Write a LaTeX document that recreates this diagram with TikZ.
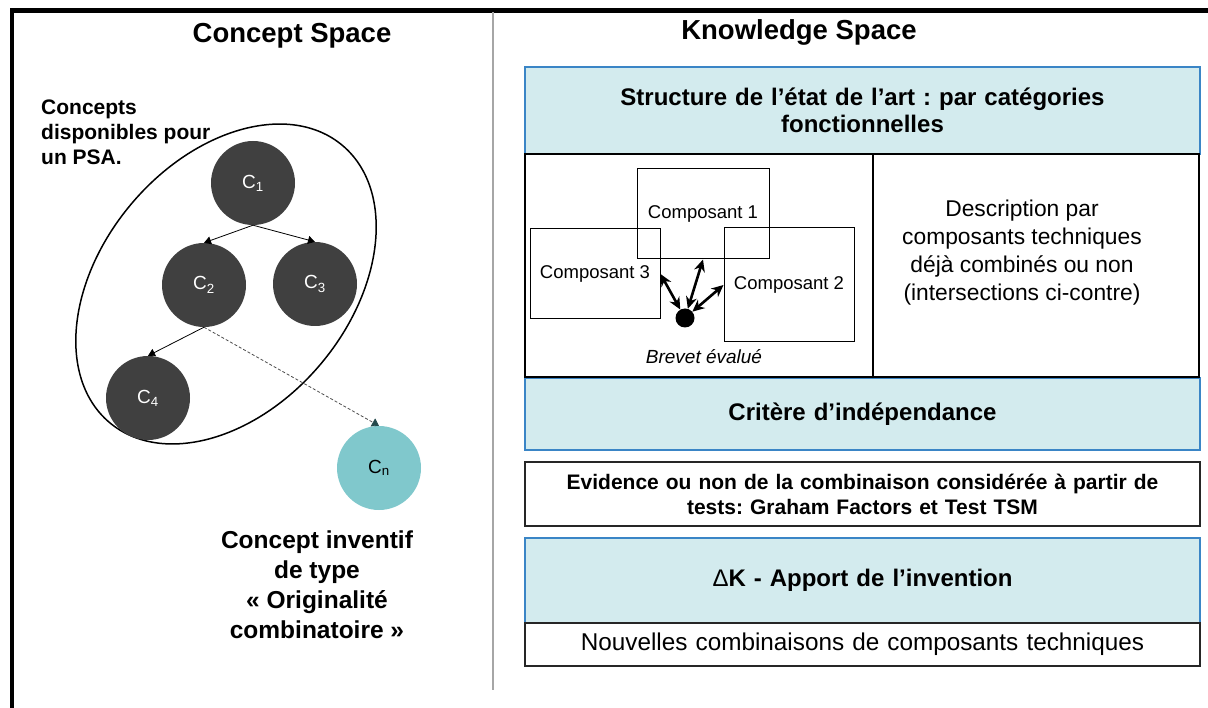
\documentclass[tikz,border=0pt]{standalone}
\usepackage{fontspec}
\setmainfont{Liberation Sans}
\usepackage{xcolor}
\usepackage{tikz}
\usetikzlibrary{positioning, arrows.meta, shapes.geometric}

\definecolor{conceptgray}{HTML}{404040}
\definecolor{cnteal}{HTML}{80C8CC}
\definecolor{cnarrow}{HTML}{23484B}
\definecolor{knowfill}{HTML}{D3EBEE}
\definecolor{knowedge}{HTML}{3A85C6}

\frenchspacing

\begin{document}
\begin{tikzpicture}[
    x=1pt, y=-1pt,
    title/.style={font=\bfseries\fontsize{27.5}{33}\selectfont},
    concept/.style={circle, fill=conceptgray, minimum size=84pt, inner sep=0pt, text=white, font=\fontsize{19}{21}\selectfont},
    link/.style={-{Triangle[width=8pt,length=7pt]}, line width=0.8pt},
    kbox/.style={draw=knowedge, fill=knowfill, line width=1.2pt, minimum width=675pt, inner sep=0pt, outer sep=0pt, text width=660pt, align=center, anchor=north west, font=\bfseries\fontsize{24}{27}\selectfont},
    wbox/.style={draw=black!85, fill=white, line width=1.5pt, minimum width=675pt, inner sep=0pt, outer sep=0pt, text width=660pt, align=center, anchor=north west},
    cell/.style={draw, line width=1.5pt, inner sep=0pt, outer sep=0pt, minimum height=223pt},
    comp/.style={draw, line width=1pt, minimum width=130pt, minimum height=90pt, inner sep=0pt, font=\fontsize{18.5}{20}\selectfont},
    duo/.style={{Stealth[length=12pt,width=11pt]}-{Stealth[length=12pt,width=11pt]}, line width=2.6pt}
]

\useasboundingbox (0,0) rectangle (1208,708);

% Frame and separation
\draw[line width=4.5pt] (1208,10.5) -- (12,10.5) -- (12,708);
\draw[gray!70, line width=1.5pt] (493,12) -- (493,690);

% Titles
\node[title] (cstitle) at (292,36) {Concept Space};
\node[title] (kstitle) at (799,32) {Knowledge Space};

% Concept space
\node[draw, ellipse, line width=1.5pt, minimum width=362pt, minimum height=248pt, rotate=50] (pool) at (226,284) {};
\node[anchor=west, align=left, inner sep=0pt, font=\bfseries\fontsize{21}{25}\selectfont] (pooltxt) at (41,132) {Concepts\\disponibles pour\\un PSA.};

\foreach \i/\x/\y in {1/253/183, 2/204/285, 3/315/284, 4/148/398} {
    \node[concept] (c\i) at (\x,\y) {C\textsubscript{\i}};
}
\node[concept, fill=cnteal, text=black] (cn) at (379,468) {C\textsubscript{n}};

\foreach \a/\b in {c1/c2, c1/c3, c2/c4} {
    \draw[link] (\a.south) -- (\b.north);
}
\draw[dash pattern=on 3pt off 2pt, gray!60!black, line width=0.8pt, -{Triangle[width=9pt,length=7pt,color=cnarrow]}] (c2.south) -- (cn.north);

\node[align=center, font=\bfseries\fontsize{24.5}{30}\selectfont] (invtxt) at (317,585) {Concept inventif\\de type\\« Originalité\\combinatoire »};

% Knowledge space
\node[kbox, minimum height=87pt] (art) at (525,67) {Structure de l’état de l’art : par catégories\\fonctionnelles};
\node[kbox, minimum height=72pt] (indep) at (525,378) {Critère d’indépendance};
\node[wbox, minimum height=64pt, font=\bfseries\fontsize{21}{25}\selectfont] (evid) at (525,462) {Evidence ou non de la combinaison considérée à partir de\\tests: Graham Factors et Test TSM};
\node[kbox, minimum height=85pt] (delta) at (525,538) {{\mdseries Δ}K - Apport de l’invention};
\node[wbox, minimum height=43pt, font=\fontsize{24.3}{27}\selectfont, below=0pt of delta] (nouv) {Nouvelles combinaisons de composants techniques};

\node[cell, minimum width=348pt, anchor=north west] (combcell) at (525,154) {};
\node[cell, minimum width=326pt, right=0pt of combcell] (desccell) {};
\node[align=center, font=\fontsize{22.8}{28}\selectfont] (desctxt) at (1022,253) {Description par\\composants techniques\\déjà combinés ou non\\(intersections ci-contre)};

% Components and evaluated patent
\node[comp, minimum width=132pt] (comp1) at (703,214) {Composant 1};
\node[comp] (comp3) at (595,274) {Composant 3};
\node[comp, minimum height=114pt] (comp2) at (789,285) {Composant 2};
\node[circle, fill=black, minimum size=19pt, inner sep=0pt] (brevet) at (685,318) {};
\node[font=\itshape\fontsize{19}{22}\selectfont] (brevettxt) at (704,357) {Brevet évalué};

\foreach \t in {comp3.east, comp1.south, comp2.west} {
    \draw[duo] (brevet) -- (\t);
}

\end{tikzpicture}
\end{document}
